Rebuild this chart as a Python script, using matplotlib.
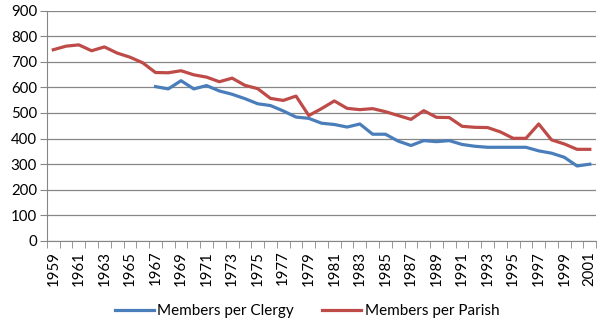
import matplotlib
matplotlib.use("Agg")
import matplotlib.pyplot as plt
import numpy as np

years = list(range(1959, 2002))
clergy = [None]*8 + [603, 594, 626, 594, 607, 586, 573, 556, 536, 529, 508, 484,
          479, 460, 455, 445, 457, 417, 417, 390, 373, 392, 388, 392, 377, 370,
          366, 366, 366, 366, 352, 343, 327, 293, 300]
parish = [747, 761, 766, 743, 758, 734, 718, 696, 658, 657, 665, 649, 640, 622,
          636, 608, 595, 557, 549, 566, 490, 517, 547, 518, 513, 517, 505, 490,
          475, 509, 483, 482, 448, 444, 443, 426, 401, 401, 457, 395, 379, 358, 358]
yticks = list(range(0, 901, 100))

plt.rcParams['font.family'] = ['Lato', 'DejaVu Sans']
fig = plt.figure(figsize=(6.09, 3.25), dpi=100)
ax = fig.add_axes([0.077, 0.2585, 0.902, 0.709])

x = np.arange(len(years))
cl = np.array([np.nan if v is None else v for v in clergy], dtype=float)
ax.plot(x, cl, color='#4A7EBB', lw=2.3, label='Members per Clergy', solid_joinstyle='round')
ax.plot(x, parish, color='#BE4B48', lw=2.3, label='Members per Parish', solid_joinstyle='round')

ax.set_xlim(-0.5, len(years) - 0.5)
ax.set_ylim(0, 900)
ax.set_yticks(yticks)
ax.tick_params(axis='y', length=5, color='#868686', labelsize=10.8, pad=2)
ax.yaxis.grid(True, color='#868686', lw=0.9)
ax.set_axisbelow(True)

ax.set_xticks(x[::2])
ax.set_xticklabels([str(y) for y in years[::2]], rotation=90, fontsize=10.8)
ax.set_xticks(np.arange(-0.5, len(years), 1), minor=True)
ax.tick_params(axis='x', which='major', length=0, pad=7)
ax.tick_params(axis='x', which='minor', length=5, color='#868686')

for s in ['top', 'right']:
    ax.spines[s].set_visible(False)
for s in ['left', 'bottom']:
    ax.spines[s].set_color('#868686')

fig.legend(loc='center', bbox_to_anchor=(0.504, 0.043), ncol=2, frameon=False,
           fontsize=11, handlelength=2.6, columnspacing=1.8, handletextpad=0.2)

fig.savefig('out.png', dpi=100)
